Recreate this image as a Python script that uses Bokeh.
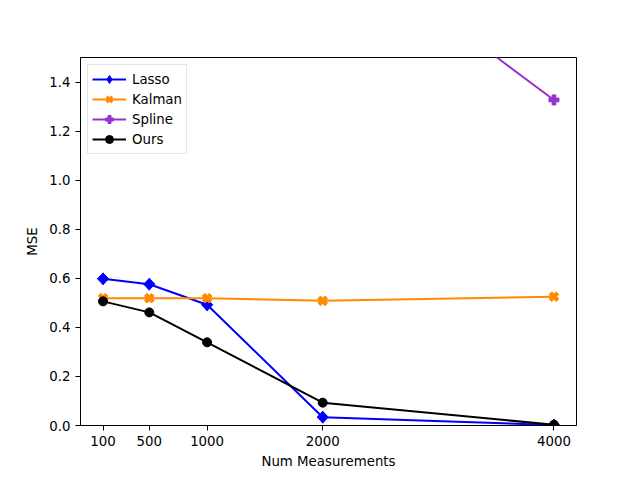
import numpy as np
from bokeh.plotting import figure
from bokeh.models import Range1d, FixedTicker, Legend, LegendItem
from bokeh.embed import file_html
from bokeh.resources import INLINE

measurements = [100, 500, 1000, 2000, 4000]
lasso = [0.598, 0.576, 0.492, 0.034, 0.002]
kalman = [0.519, 0.519, 0.519, 0.508, 0.525]
spline = [3.2, 2.9, 2.6, 2.03, 1.327]
ours = [0.506, 0.461, 0.339, 0.093, 0.003]
x_ticks = [100, 500, 1000, 2000, 4000]
y_ticks = [0.0, 0.2, 0.4, 0.6, 0.8, 1.0, 1.2, 1.4]

p = figure(width=640, height=478, output_backend="svg", toolbar_location=None,
           x_range=Range1d(-95, 4195), y_range=Range1d(0, 1.5),
           min_border_left=80, min_border_right=64, min_border_top=57, min_border_bottom=53)

p.xgrid.visible = False
p.ygrid.visible = False
p.outline_line_color = "black"
p.outline_line_alpha = 1
p.outline_line_width = 1
p.background_fill_color = "white"
p.border_fill_color = "white"

p.xaxis.ticker = FixedTicker(ticks=x_ticks)
p.yaxis.ticker = FixedTicker(ticks=y_ticks)
p.yaxis.major_label_overrides = {v: f"{v:.1f}" for v in y_ticks}
for ax in [p.xaxis[0], p.yaxis[0]]:
    ax.major_tick_in = 0
    ax.major_tick_out = 5
    ax.minor_tick_line_color = None
    ax.axis_line_color = "black"
    ax.major_tick_line_color = "black"
    ax.major_label_text_font = "DejaVu Sans"
    ax.major_label_text_font_size = "10pt"
    ax.major_label_text_color = "black"
    ax.axis_label_text_font = "DejaVu Sans"
    ax.axis_label_text_font_size = "10pt"
    ax.axis_label_text_font_style = "normal"
    ax.axis_label_text_color = "black"
    ax.major_label_standoff = 5
p.xaxis.axis_label = "Num Measurements"
p.yaxis.axis_label = "MSE"
p.xaxis.axis_label_standoff = 5
p.yaxis.axis_label_standoff = 6

# (name, values, color, plot marker, angle, size, legend marker, legend size, legend line width)
series = [
    ("Lasso", lasso, "blue", "square", np.pi / 4, 8, "diamond", 12, 1),
    ("Kalman", kalman, "#ff8c00", "plus", np.pi / 4, 10, "x", 6, 3),
    ("Spline", spline, "#9932cc", "plus", 0, 10, None, 0, 0),
    ("Ours", ours, "black", "circle", 0, 9, None, 0, 0),
]
items = []
for name, ys, color, marker, ang, sz, lmarker, lsz, llw in series:
    l = p.line(measurements, ys, line_color=color, line_width=2)
    proxy = None
    if lmarker is not None:
        # legend-shaped marker drawn underneath the real (rotated) marker
        proxy = p.scatter(measurements, ys, marker=lmarker, size=lsz, fill_color=color,
                          line_color=color, line_width=llw)
    s = p.scatter(measurements, ys, marker=marker, angle=ang, size=sz,
                  fill_color=color, line_color=color)
    items.append(LegendItem(label=name, renderers=[l, proxy if proxy is not None else s]))

legend = Legend(items=items, location="top_left")
legend.margin = 7
legend.padding = 4
legend.spacing = 0
legend.glyph_width = 34
legend.glyph_height = 20
legend.label_height = 20
legend.label_standoff = 6
legend.label_text_font = "DejaVu Sans"
legend.label_text_font_size = "10pt"
legend.label_text_color = "black"
legend.border_line_color = "#cccccc"
legend.background_fill_alpha = 0.8
p.add_layout(legend)

open("out.html", "w").write(file_html(p, INLINE))
